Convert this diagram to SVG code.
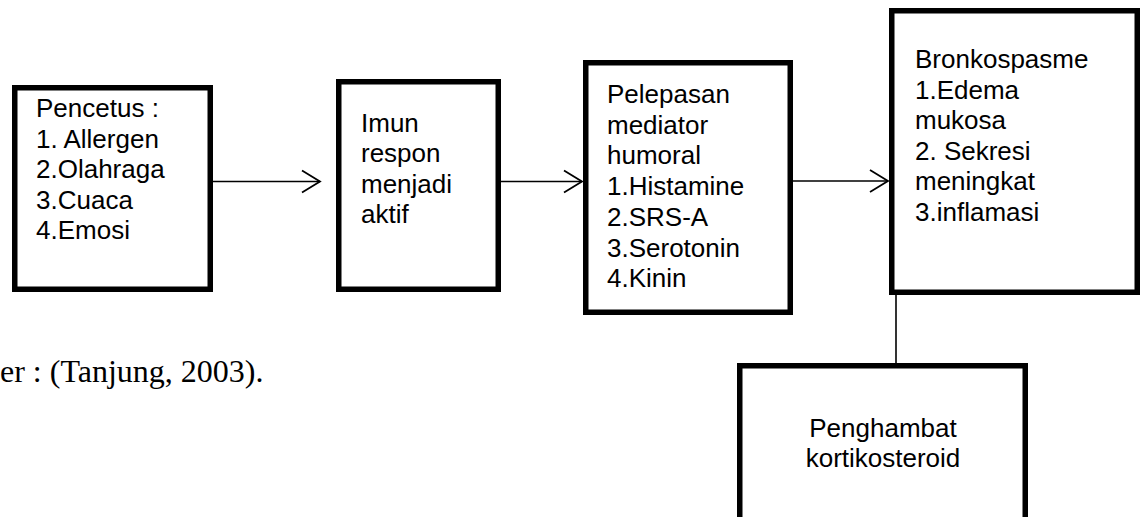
<svg xmlns="http://www.w3.org/2000/svg" width="1147" height="517" viewBox="0 0 1147 517">
<style>
.box{fill:#fff;stroke:#000;stroke-width:5.5}
.t{font-family:"Liberation Sans",Arial,sans-serif;font-size:26px;fill:#000}
.c{text-anchor:middle}
.conn{stroke:#000;stroke-width:1.6;fill:none}
.cap{font-family:"Liberation Serif","Times New Roman",serif;font-size:32px;fill:#000}
</style>
<defs>
<marker id="arr" markerUnits="userSpaceOnUse" markerWidth="24" markerHeight="28" refX="20" refY="12" orient="auto" viewBox="0 0 24 24">
<path d="M2,1 L20,12 L2,23" fill="none" stroke="#000" stroke-width="1.8"/>
</marker>
</defs>
<rect width="1147" height="517" fill="#fff"/>
<g id="connectors">
<line class="conn" x1="213" y1="181.5" x2="320" y2="181.5" marker-end="url(#arr)"/>
<line class="conn" x1="501" y1="181.5" x2="582" y2="181.5" marker-end="url(#arr)"/>
<line class="conn" x1="793" y1="181" x2="888" y2="181" marker-end="url(#arr)"/>
<line class="conn" x1="896" y1="295" x2="896" y2="363"/>
</g>
<g id="pencetus">
<rect class="box" x="14.75" y="87.75" width="195.5" height="201.5"/>
<text class="t" x="36" y="117">Pencetus :<tspan x="36" dy="30.5">1. Allergen</tspan><tspan x="36" dy="30.5">2.Olahraga</tspan><tspan x="36" dy="30.5">3.Cuaca</tspan><tspan x="36" dy="30.5">4.Emosi</tspan></text>
</g>
<g id="imun">
<rect class="box" x="338.75" y="81.75" width="159.5" height="207.5"/>
<text class="t" x="361" y="132">Imun<tspan x="361" dy="30.4">respon</tspan><tspan x="361" dy="30.4">menjadi</tspan><tspan x="361" dy="30.4">aktif</tspan></text>
</g>
<g id="pelepasan">
<rect class="box" x="585.75" y="62.75" width="204.5" height="249.5"/>
<text class="t" x="607" y="103">Pelepasan<tspan x="607" dy="30.7">mediator</tspan><tspan x="607" dy="30.7">humoral</tspan><tspan x="607" dy="30.7">1.Histamine</tspan><tspan x="607" dy="30.7">2.SRS-A</tspan><tspan x="607" dy="30.7">3.Serotonin</tspan><tspan x="607" dy="30.7">4.Kinin</tspan></text>
</g>
<g id="bronkospasme">
<rect class="box" x="891.75" y="10.75" width="245.5" height="281.5"/>
<text class="t" x="915" y="68">Bronkospasme<tspan x="915" dy="30.5">1.Edema</tspan><tspan x="915" dy="30.5">mukosa</tspan><tspan x="915" dy="30.5">2. Sekresi</tspan><tspan x="915" dy="30.5">meningkat</tspan><tspan x="915" dy="30.5">3.inflamasi</tspan></text>
</g>
<g id="penghambat">
<rect class="box" x="739.75" y="365.75" width="285.5" height="200"/>
<text class="t c" x="883" y="437">Penghambat<tspan x="883" dy="30">kortikosteroid</tspan></text>
</g>
<text class="cap" x="0" y="382">er : (Tanjung, 2003).</text>
</svg>
